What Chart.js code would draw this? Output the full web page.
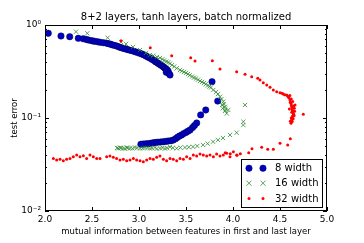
<!DOCTYPE html>
<html><head><meta charset="utf-8">
<script src="https://cdn.jsdelivr.net/npm/chart.js@4"></script>
<style>html,body{margin:0;padding:0;background:#fff}canvas{display:block}</style>
</head><body>
<canvas id="c" width="364" height="243"></canvas>
<script>
const titleText = '8+2 layers, tanh layers, batch normalized';
const xTitle = 'mutual information between features in first and last layer';
const yTitle = 'test error';
const seriesLabels = ['8 width', '16 width', '32 width'];
const xTicks = [2.0, 2.5, 3.0, 3.5, 4.0, 4.5, 5.0];
const xTickLabels = ['2.0', '2.5', '3.0', '3.5', '4.0', '4.5', '5.0'];
const yTicks = [0.01, 0.1, 1];
const yTickLabels = ['10\u207B\u00B2', '10\u207B\u00B9', '10\u2070'];

const w8X = [2.035,2.17,2.263,2.354,2.407,2.44,2.46,2.49,2.51,2.53,2.56,2.585,2.62,2.656,2.68,2.70,2.72,2.745,2.77,2.79,2.81,2.833,2.85,2.87,2.89,2.915,2.94,2.96,2.985,3.01,3.03,3.05,3.07,3.085,3.10,3.12,3.135,3.152,3.17,3.18,3.2,3.215,3.23,3.245,3.258,3.27,3.28,3.29,3.3,3.31,3.29,3.32,3.33,
  3.777,3.837,3.71,3.656,3.614,3.59,3.57,3.543,3.52,3.50,3.475,3.454,3.43,3.41,3.39,3.365,3.34,3.31,3.285,3.258,3.23,3.20,3.175,3.152,3.125,3.10,3.075,3.046,3.02];
const w8Y = [0.814,0.761,0.748,0.719,0.711,0.70,0.69,0.68,0.674,0.667,0.66,0.652,0.645,0.636,0.628,0.62,0.61,0.602,0.59,0.58,0.57,0.561,0.555,0.548,0.54,0.532,0.524,0.515,0.505,0.496,0.487,0.478,0.468,0.458,0.45,0.44,0.43,0.42,0.41,0.40,0.39,0.38,0.372,0.364,0.356,0.348,0.34,0.334,0.328,0.318,0.31,0.30,0.29,
  0.246,0.152,0.122,0.108,0.0884,0.083,0.079,0.0743,0.072,0.070,0.068,0.0657,0.064,0.062,0.060,0.058,0.057,0.0565,0.056,0.0556,0.0552,0.055,0.0545,0.0542,0.0535,0.053,0.0528,0.0525,0.0522];

const w16X = [2.33,2.45,2.667,2.809,2.862,2.936,3.011,3.074,3.117,3.152,3.191,3.223,3.25,3.266,3.29,3.312,3.33,3.351,3.375,3.401,3.436,3.455,3.479,3.5,3.521,3.54,3.564,3.585,3.606,3.627,3.649,3.67,3.691,3.71,3.734,3.75,3.766,3.79,3.819,3.84,3.862,3.878,3.897,3.904,3.915,3.95,3.933,3.915,3.883,3.89,3.92,
  4.128,4.11,4.11,4.039,3.968,3.894,3.84,3.787,3.73,3.681,3.62,3.574,3.53,3.489,3.44,3.401,3.36,3.33,3.30,3.277,3.25,3.223,3.19,3.17,3.14,3.117,3.09,3.064,3.04,3.011,2.98,2.957,2.93,2.904,2.88,2.869,2.85,2.83,2.81,2.798,2.78,2.766];
const w16Y = [0.847,0.814,0.73,0.656,0.625,0.58,0.538,0.5,0.476,0.468,0.453,0.442,0.43,0.415,0.405,0.397,0.385,0.371,0.358,0.342,0.328,0.32,0.312,0.305,0.297,0.288,0.279,0.272,0.266,0.258,0.25,0.244,0.238,0.231,0.224,0.218,0.213,0.2,0.19,0.181,0.169,0.16,0.15,0.141,0.132,0.122,0.112,0.119,0.138,0.127,0.125,
  0.138,0.0912,0.084,0.0695,0.0657,0.061,0.058,0.0556,0.053,0.0513,0.050,0.0491,0.0485,0.0482,0.048,0.0472,0.0478,0.0488,0.0475,0.047,0.0478,0.0472,0.0468,0.0482,0.0475,0.047,0.0478,0.048,0.0472,0.047,0.0478,0.0482,0.047,0.0472,0.0478,0.048,0.0468,0.047,0.0476,0.048,0.0472,0.0476];

const w32X = [2.089,2.124,2.16,2.195,2.23,2.266,2.301,2.337,2.372,2.408,2.443,2.479,2.514,2.55,2.585,2.656,2.691,2.727,2.762,2.798,2.833,2.869,2.904,2.94,2.975,3.011,3.046,3.082,3.117,3.152,3.188,3.223,3.259,3.294,3.33,3.365,3.401,3.436,3.472,3.507,3.543,3.578,3.613,3.649,3.684,3.72,3.755,3.791,3.826,3.862,3.897,3.918,3.933,3.971,3.968,4.004,4.039,4.043,4.078,4.167,4.202,4.305,4.369,4.429,4.5,4.582,4.61,
  4.617,4.624,4.631,4.748,4.66,4.652,4.641,4.631,4.624,4.617,4.606,4.588,4.571,4.535,4.5,4.465,4.429,4.394,4.359,4.322,4.287,4.263,4.199,4.128,4.039,3.862,3.78,3.596,3.55,3.348,3.12,2.809,
  4.595,4.62,4.61,4.635,4.62,4.645,4.63,4.655,4.64,4.625,4.65,4.635,4.62,4.64,4.61,4.63,4.605,4.58,4.55,4.52,4.6,4.645];
const w32Y = [0.0368,0.0353,0.036,0.0347,0.036,0.0368,0.0384,0.040,0.0384,0.0393,0.0368,0.040,0.0384,0.0368,0.0368,0.0384,0.039,0.0378,0.0368,0.0353,0.036,0.0347,0.0353,0.0368,0.0353,0.0347,0.0339,0.0353,0.0368,0.036,0.0378,0.039,0.036,0.0347,0.0368,0.036,0.0347,0.0368,0.036,0.0384,0.0368,0.040,0.039,0.041,0.040,0.039,0.040,0.0384,0.041,0.039,0.040,0.0424,0.0417,0.0413,0.0384,0.0434,0.040,0.0397,0.0413,0.0424,0.0468,0.0484,0.046,0.046,0.0535,0.0513,0.0599,
  0.0877,0.095,0.103,0.110,0.138,0.127,0.112,0.122,0.132,0.144,0.156,0.169,0.177,0.181,0.187,0.192,0.2,0.214,0.226,0.24,0.256,0.267,0.278,0.295,0.315,0.336,0.413,0.41,0.445,0.468,0.57,0.678,
  0.165,0.16,0.148,0.15,0.138,0.135,0.128,0.118,0.118,0.115,0.106,0.105,0.1,0.098,0.092,0.0915,0.175,0.172,0.178,0.185,0.125,0.11];

const pts = (xs, ys) => xs.map((x, i) => ({x: x, y: ys[i]}));
const colors = {b: '#0000c4', bEdge: '#000050', g: '#2e8b2e', r: '#ff0000'};

const frame = {
  id: 'frame',
  afterDatasetsDraw(chart) {
    const ctx = chart.ctx, a = chart.chartArea, xs = chart.scales.x, ys = chart.scales.y;
    ctx.save();
    ctx.strokeStyle = '#000'; ctx.lineWidth = 1;
    ctx.strokeRect(Math.round(a.left) + 0.5, Math.round(a.top) + 0.5, Math.round(a.right - a.left) - 1, Math.round(a.bottom - a.top) - 1);
    ctx.beginPath();
    xTicks.forEach(v => {
      const p = Math.round(xs.getPixelForValue(v)) + 0.5;
      ctx.moveTo(p, a.bottom); ctx.lineTo(p, a.bottom - 4);
      ctx.moveTo(p, a.top); ctx.lineTo(p, a.top + 4);
    });
    yTicks.forEach(v => {
      const p = Math.round(ys.getPixelForValue(v)) + 0.5;
      ctx.moveTo(a.left, p); ctx.lineTo(a.left + 4, p);
      ctx.moveTo(a.right, p); ctx.lineTo(a.right - 4, p);
    });
    [0.01, 0.1].forEach(d => {
      for (let k = 2; k <= 9; k++) {
        const p = Math.round(ys.getPixelForValue(d * k)) + 0.5;
        ctx.moveTo(a.left, p); ctx.lineTo(a.left + 2, p);
        ctx.moveTo(a.right, p); ctx.lineTo(a.right - 2, p);
      }
    });
    ctx.stroke();
    ctx.fillStyle = '#000';
    ctx.font = '10px "DejaVu Sans"';
    ctx.textAlign = 'center'; ctx.textBaseline = 'alphabetic';
    ctx.fillText(titleText, (a.left + a.right) / 2, 19.5);
    ctx.restore();
  },
  afterDraw(chart) {
    const ctx = chart.ctx, a = chart.chartArea;
    const bx = Math.round(a.right - 86) + 0.5, by = Math.round(a.bottom - 52) + 0.5;
    ctx.save();
    ctx.fillStyle = '#fff'; ctx.strokeStyle = '#000'; ctx.lineWidth = 1;
    ctx.fillRect(bx, by, 81, 48); ctx.strokeRect(bx, by, 81, 48);
    const rows = [8.7, 23.7, 39];
    seriesLabels.forEach((lab, i) => {
      const yy = by + rows[i];
      [bx + 7.5, bx + 21.5].forEach(mx => {
        ctx.beginPath();
        if (i === 0) {
          ctx.fillStyle = colors.b; ctx.strokeStyle = colors.bEdge; ctx.lineWidth = 0.5;
          ctx.arc(mx, yy, 3.2, 0, Math.PI * 2); ctx.fill(); ctx.stroke();
        } else if (i === 1) {
          ctx.strokeStyle = colors.g; ctx.lineWidth = 0.8;
          ctx.moveTo(mx - 2.6, yy - 2.6); ctx.lineTo(mx + 2.6, yy + 2.6);
          ctx.moveTo(mx - 2.6, yy + 2.6); ctx.lineTo(mx + 2.6, yy - 2.6); ctx.stroke();
        } else {
          ctx.fillStyle = colors.r; ctx.arc(mx, yy, 1.5, 0, Math.PI * 2); ctx.fill();
        }
      });
      ctx.fillStyle = '#000'; ctx.font = '10px "DejaVu Sans"';
      ctx.textAlign = 'left'; ctx.textBaseline = 'middle';
      ctx.fillText(lab, bx + 33.5, yy + 0.5);
    });
    ctx.restore();
  }
};

new Chart(document.getElementById('c'), {
  type: 'scatter',
  data: {
    datasets: [
      {label: seriesLabels[0], data: pts(w8X, w8Y), order: 3, pointStyle: 'circle', pointRadius: 3.2, backgroundColor: colors.b, borderColor: colors.bEdge, borderWidth: 0.5},
      {label: seriesLabels[1], data: pts(w16X, w16Y), order: 2, pointStyle: 'crossRot', pointRadius: 3, backgroundColor: colors.g, borderColor: colors.g, borderWidth: 0.8},
      {label: seriesLabels[2], data: pts(w32X, w32Y), order: 1, pointStyle: 'circle', pointRadius: 1.5, backgroundColor: colors.r, borderColor: colors.r, borderWidth: 0}
    ]
  },
  options: {
    responsive: false, animation: false, devicePixelRatio: 1,
    layout: {padding: {left: 0, right: 37, top: 25, bottom: 0}},
    plugins: {legend: {display: false}, tooltip: {enabled: false}, title: {display: false}},
    scales: {
      x: {
        type: 'linear', min: 2, max: 5,
        afterBuildTicks: s => { s.ticks = xTicks.map(v => ({value: v})); },
        afterFit: s => { s.height = 32; },
        grid: {display: false, drawTicks: false},
        border: {display: false},
        ticks: {padding: 3, color: '#000', font: {family: 'DejaVu Sans', size: 9}, maxRotation: 0,
          callback: (v) => { const i = xTicks.indexOf(v); return i >= 0 ? xTickLabels[i] : ''; }},
        title: {display: true, text: xTitle, color: '#000', font: {family: 'DejaVu Sans', size: 8.5}, padding: {top: 0, bottom: 6.5}}
      },
      y: {
        type: 'logarithmic', min: 0.01, max: 1,
        afterBuildTicks: s => { s.ticks = yTicks.map(v => ({value: v})); },
        afterFit: s => { s.width = 45; },
        grid: {display: false, drawTicks: false},
        border: {display: false},
        ticks: {padding: 4, color: '#000', font: {family: 'DejaVu Sans', size: 9},
          callback: (v) => { const i = yTicks.indexOf(v); return i >= 0 ? yTickLabels[i] : ''; }},
        title: {display: true, text: yTitle, color: '#000', font: {family: 'DejaVu Sans', size: 8.5}, padding: {top: 9.4, bottom: 0}}
      }
    }
  },
  plugins: [frame]
});
</script>
</body></html>
